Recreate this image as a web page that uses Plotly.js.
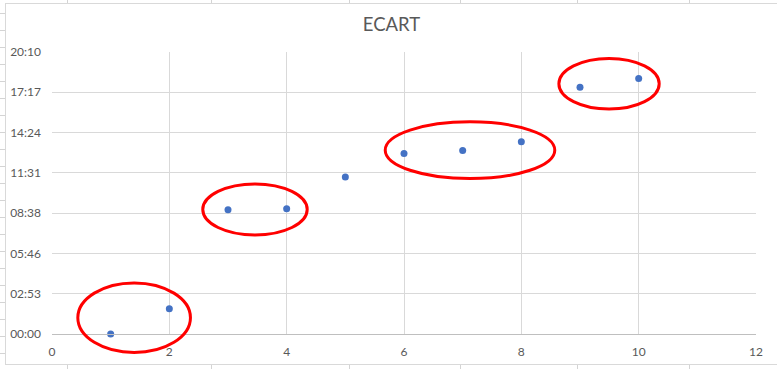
<!DOCTYPE html>
<html><head><meta charset="utf-8">
<script src="https://cdn.plot.ly/plotly-3.0.1.min.js"></script>
<style>
html,body{margin:0;padding:0;background:#fff;width:777px;height:369px;overflow:hidden;position:relative;}
#sheet{position:absolute;left:0;top:0;width:777px;height:369px;}
#box{position:absolute;left:5px;top:3px;width:790px;height:360px;border:1px solid #d9d9d9;background:#fff;}
#chart{position:absolute;left:6px;top:4px;width:771px;height:360px;}
</style></head>
<body>
<svg id="sheet" width="777" height="369"></svg>
<div id="box"></div>
<div id="chart"></div>
<script>
// ---- data ----
const xValues = [1, 2, 3, 4, 5, 6, 7, 8, 9, 10];
const ecartTimes = ["00:00", "01:48", "08:53", "08:57", "11:13", "12:54", "13:07", "13:45", "17:38", "18:16"];
const yTickLabels = ["00:00", "02:53", "05:46", "08:38", "11:31", "14:24", "17:17", "20:10"];
const xTickLabels = ["0", "2", "4", "6", "8", "10", "12"];
// hand-drawn red ellipses (data units: x, days)
const ellipseX0 = [0.44, 2.57, 5.68, 8.64];
const ellipseX1 = [2.36, 4.35, 8.57, 10.35];
const ellipseY0 = [-0.055, 0.295, 0.463, 0.670];
const ellipseY1 = [0.152, 0.447, 0.632, 0.821];

// spreadsheet grid behind the chart
(function(){
  const svg = document.getElementById('sheet');
  const ns = 'http://www.w3.org/2000/svg';
  for (let y = 13; y < 369; y += 17) {
    const l = document.createElementNS(ns,'line');
    l.setAttribute('x1',0);l.setAttribute('x2',777);l.setAttribute('y1',y+0.5);l.setAttribute('y2',y+0.5);
    l.setAttribute('stroke','#d4d4d4');svg.appendChild(l);
  }
  [67,211,349,460,577,689].forEach(x=>{
    const l = document.createElementNS(ns,'line');
    l.setAttribute('x1',x+0.5);l.setAttribute('x2',x+0.5);l.setAttribute('y1',0);l.setAttribute('y2',369);
    l.setAttribute('stroke','#d4d4d4');svg.appendChild(l);
  });
})();

function toDays(t){const p=t.split(':');return (parseInt(p[0])*60+parseInt(p[1]))/1440;}
const yValues = ecartTimes.map(toDays);
const yStep = 0.12;
const yTickVals = yTickLabels.map((_, i) => i * yStep);
const xTickVals = xTickLabels.map(Number);
const xr = [0, 12], yr = [0, yTickVals[yTickVals.length-1]];
const dx = v => (v - xr[0]) / (xr[1] - xr[0]);
const dy = v => (v - yr[0]) / (yr[1] - yr[0]);

const shapes = ellipseX0.map((_, i) => ({
  type: 'circle', xref: 'x domain', yref: 'y domain',
  x0: dx(ellipseX0[i]), x1: dx(ellipseX1[i]), y0: dy(ellipseY0[i]), y1: dy(ellipseY1[i]),
  line: {color: '#ff0000', width: 3}, layer: 'above'
}));

const trace = {
  x: xValues, y: yValues, type: 'scatter', mode: 'markers', cliponaxis: false,
  marker: {color: '#4472c4', size: 7}, hoverinfo: 'none'
};

const layout = {
  width: 771, height: 360,
  margin: {l: 46, r: 21, t: 48, b: 30},
  paper_bgcolor: 'rgba(0,0,0,0)', plot_bgcolor: '#fff',
  font: {family: 'Lato, "Liberation Sans", sans-serif', color: '#595959', size: 12},
  title: {text: 'ECART', x: 0.5, xref: 'container', y: 0.942, yref: 'container', yanchor: 'middle',
          font: {size: 18.5, color: '#595959', family: 'Lato, sans-serif'}},
  showlegend: false,
  xaxis: {range: xr, tickmode: 'array', tickvals: xTickVals, ticktext: xTickLabels,
          showgrid: true, gridcolor: '#d9d9d9', gridwidth: 1, zeroline: false,
          showline: true, linecolor: '#bfbfbf', linewidth: 1, mirror: false,
          ticks: '', ticklabelstandoff: 7, fixedrange: true},
  yaxis: {range: yr, tickmode: 'array', tickvals: yTickVals, ticktext: yTickLabels,
          showgrid: true, gridcolor: '#d9d9d9', gridwidth: 1, zeroline: false,
          showline: false, ticks: '', ticklabelstandoff: 10, fixedrange: true},
  shapes: shapes
};
Plotly.newPlot('chart', [trace], layout, {staticPlot: true, displayModeBar: false});
</script>
</body></html>
